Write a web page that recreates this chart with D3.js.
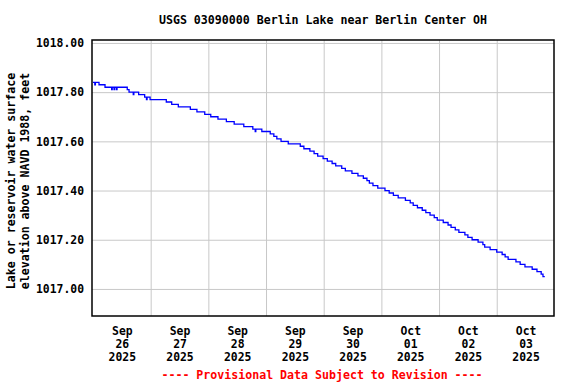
<!DOCTYPE html>
<html>
<head>
<meta charset="utf-8">
<script src="https://cdn.jsdelivr.net/npm/d3@7"></script>
<style>
  html, body { margin: 0; padding: 0; background: #fff; }
  svg { display: block; }
  text { font-family: "DejaVu Sans Mono", "Liberation Mono", monospace; font-weight: bold; }
</style>
</head>
<body>
<svg id="chart" width="576" height="384"></svg>
<script>
// ---- Data ----
const title = "USGS 03090000 Berlin Lake near Berlin Center OH";
const yTitleLines = ["Lake or reservoir water surface", "elevation above NAVD 1988, feet"];
const footer = "---- Provisional Data Subject to Revision ----";

const yTicks = [1017.00, 1017.20, 1017.40, 1017.60, 1017.80, 1018.00];
const xTickDays = ["2025-09-26", "2025-09-27", "2025-09-28", "2025-09-29",
                   "2025-09-30", "2025-10-01", "2025-10-02", "2025-10-03"];
const xGridDays = ["2025-09-27", "2025-09-28", "2025-09-29", "2025-09-30",
                   "2025-10-01", "2025-10-02", "2025-10-03"];

const times = [
  "2025-09-26T00:00","2025-09-26T00:45","2025-09-26T01:00","2025-09-26T02:30","2025-09-26T05:00",
  "2025-09-26T07:45","2025-09-26T08:00","2025-09-26T08:45","2025-09-26T09:00","2025-09-26T09:45",
  "2025-09-26T10:00","2025-09-26T14:15","2025-09-26T15:00","2025-09-26T16:45","2025-09-26T17:00",
  "2025-09-26T19:00","2025-09-26T21:30","2025-09-26T22:15","2025-09-26T22:30","2025-09-26T23:45",
  "2025-09-27T06:30","2025-09-27T08:45","2025-09-27T11:30","2025-09-27T16:30","2025-09-27T19:15",
  "2025-09-27T22:30","2025-09-28T01:00","2025-09-28T04:00","2025-09-28T07:30","2025-09-28T10:45",
  "2025-09-28T14:45","2025-09-28T18:30","2025-09-28T19:30","2025-09-28T19:45","2025-09-28T22:15",
  "2025-09-29T01:45","2025-09-29T03:15","2025-09-29T04:30","2025-09-29T06:15","2025-09-29T09:15",
  "2025-09-29T14:15","2025-09-29T15:45","2025-09-29T18:15","2025-09-29T20:00","2025-09-29T21:30",
  "2025-09-29T23:45","2025-09-30T01:30","2025-09-30T03:30","2025-09-30T05:00","2025-09-30T07:30",
  "2025-09-30T09:00","2025-09-30T11:45","2025-09-30T14:15","2025-09-30T16:30","2025-09-30T18:00",
  "2025-09-30T19:00","2025-09-30T20:30","2025-09-30T22:30","2025-10-01T01:30","2025-10-01T03:15",
  "2025-10-01T05:00","2025-10-01T07:00","2025-10-01T10:00","2025-10-01T12:00","2025-10-01T13:15",
  "2025-10-01T15:00","2025-10-01T17:00","2025-10-01T18:30","2025-10-01T20:15","2025-10-01T22:00",
  "2025-10-01T23:15","2025-10-02T01:45","2025-10-02T03:45","2025-10-02T05:00","2025-10-02T06:45",
  "2025-10-02T08:15","2025-10-02T10:45","2025-10-02T12:00","2025-10-02T13:45","2025-10-02T16:15",
  "2025-10-02T18:15","2025-10-02T19:00","2025-10-02T21:15","2025-10-03T00:00","2025-10-03T02:15",
  "2025-10-03T03:30","2025-10-03T04:45","2025-10-03T08:00","2025-10-03T09:45","2025-10-03T11:45",
  "2025-10-03T14:45","2025-10-03T16:45","2025-10-03T18:30","2025-10-03T19:15","2025-10-03T20:00"
];
const elevations = [
  1017.84,1017.83,1017.84,1017.83,1017.82,
  1017.81,1017.82,1017.81,1017.82,1017.81,
  1017.82,1017.81,1017.80,1017.79,1017.80,
  1017.79,1017.78,1017.77,1017.78,1017.77,
  1017.76,1017.75,1017.74,1017.73,1017.72,
  1017.71,1017.70,1017.69,1017.68,1017.67,
  1017.66,1017.65,1017.64,1017.65,1017.64,
  1017.63,1017.62,1017.61,1017.60,1017.59,
  1017.58,1017.57,1017.56,1017.55,1017.54,
  1017.53,1017.52,1017.51,1017.50,1017.49,
  1017.48,1017.47,1017.46,1017.45,1017.44,
  1017.43,1017.42,1017.41,1017.40,1017.39,
  1017.38,1017.37,1017.36,1017.35,1017.34,
  1017.33,1017.32,1017.31,1017.30,1017.29,
  1017.28,1017.27,1017.26,1017.25,1017.24,
  1017.23,1017.22,1017.21,1017.20,1017.19,
  1017.18,1017.17,1017.16,1017.15,1017.14,
  1017.13,1017.12,1017.11,1017.10,1017.09,
  1017.08,1017.07,1017.06,1017.05,1017.05
];

// ---- Layout ----
const frame = { left: 92, right: 554, top: 40, bottom: 316 };
const parseT = d3.timeParse("%Y-%m-%dT%H:%M");
const parseD = d3.timeParse("%Y-%m-%d");
const data = times.map((t, i) => ({ t: parseT(t), v: elevations[i] }));

const x = d3.scaleTime()
  .domain([parseD("2025-09-26"), parseD("2025-10-04")])
  .range([93, 554.4]);
const y = d3.scaleLinear()
  .domain([1016.89, 1018.012])
  .range([frame.bottom, frame.top]);

const svg = d3.select("#chart");
svg.append("rect").attr("width", 576).attr("height", 384).attr("fill", "#fff");

// Grid lines
const gridColor = "#c8c8c8";
const gy = svg.append("g").attr("transform", `translate(${frame.left},0)`)
  .call(d3.axisLeft(y).tickValues(yTicks).tickSize(-(frame.right - frame.left)).tickFormat(""));
gy.select(".domain").remove();
gy.selectAll("line").attr("stroke", gridColor).attr("stroke-width", 1);

const gx = svg.append("g").attr("transform", `translate(0,${frame.bottom})`)
  .call(d3.axisBottom(x).tickValues(xGridDays.map(parseD)).tickSize(-(frame.bottom - frame.top)).tickFormat(""));
gx.select(".domain").remove();
gx.selectAll("line").attr("stroke", gridColor).attr("stroke-width", 1);

// Data line
const line = d3.line().x(d => x(d.t)).y(d => y(d.v)).curve(d3.curveStepAfter);
svg.append("path").datum(data)
  .attr("d", line)
  .attr("fill", "none")
  .attr("stroke", "#0000ff")
  .attr("stroke-width", 1.3);

// Frame
svg.append("rect")
  .attr("x", frame.left).attr("y", frame.top)
  .attr("width", frame.right - frame.left).attr("height", frame.bottom - frame.top)
  .attr("fill", "none").attr("stroke", "#000").attr("stroke-width", 1.5);

// Y tick labels
const ya = svg.append("g").attr("transform", `translate(${frame.left},0)`)
  .call(d3.axisLeft(y).tickValues(yTicks).tickSize(0).tickPadding(8).tickFormat(d3.format(".2f")));
ya.select(".domain").remove();
ya.selectAll("text").attr("font-size", 11.4).attr("fill", "#000")
  .attr("font-family", "DejaVu Sans Mono").attr("font-weight", "bold");

// X tick labels (noon of each day), three lines
const noon = xTickDays.map(s => d3.timeHour.offset(parseD(s), 12));
const fmtM = d3.timeFormat("%b"), fmtD = d3.timeFormat("%d"), fmtY = d3.timeFormat("%Y");
const xa = svg.append("g").attr("transform", `translate(0,${frame.bottom})`)
  .call(d3.axisBottom(x).tickValues(noon).tickSize(0).tickFormat(""));
xa.select(".domain").remove();
xa.selectAll(".tick text").each(function(d) {
  const t = d3.select(this).attr("y", null).attr("dy", null)
    .attr("font-size", 11.4).attr("fill", "#000")
    .attr("font-family", "DejaVu Sans Mono").attr("font-weight", "bold");
  [fmtM(d), fmtD(d), fmtY(d)].forEach((s, i) => {
    t.append("tspan").attr("x", 0).attr("y", 19 + i * 13).text(s);
  });
});

// Title
svg.append("text").attr("x", 323).attr("y", 24).attr("text-anchor", "middle")
  .attr("font-size", 11.6).attr("fill", "#000").text(title);

// Y axis title (rotated, two lines)
[15, 28.5].forEach((bx, i) => {
  svg.append("text")
    .attr("transform", `translate(${bx},181) rotate(-90)`)
    .attr("text-anchor", "middle")
    .attr("font-size", 11.6).attr("fill", "#000")
    .text(yTitleLines[i]);
});

// Footer
svg.append("text").attr("x", 322).attr("y", 379).attr("text-anchor", "middle")
  .attr("font-size", 11.6).attr("fill", "#ff0000").text(footer);
</script>
</body>
</html>
